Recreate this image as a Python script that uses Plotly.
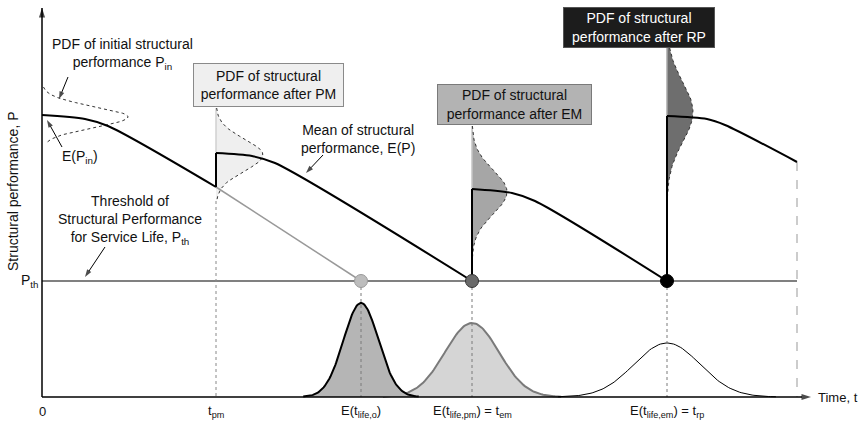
import numpy as np
import plotly.graph_objects as go

# ---------------- key instants (time axis) and performance levels ----------------
t_pm = 17.4
t_life_o = 31.9
t_em = 43.0
t_rp = 62.5
t_end = 75.5

P_th = 11.6
P_in = 28.2

# mean structural performance profile: knots of each service interval
seg_t = [[0.0, 4.3, 6.6, 17.4],
         [17.4, 21.0, 23.3, 43.0],
         [43.0, 47.0, 49.3, 62.5],
         [62.5, 66.5, 68.3, 75.5]]
seg_P = [[28.2, 27.8, 27.1, 21.0],
         [24.4, 24.1, 23.4, 11.6],
         [20.8, 20.4, 19.6, 11.6],
         [28.1, 27.8, 27.2, 23.5]]

# PDFs of structural performance (drawn sideways at a time instant)
pdfP_base = [0.0, t_pm, t_em, t_rp]
pdfP_mean = [28.0, 24.2, 20.5, 28.5]
pdfP_sd = [1.05, 1.6, 2.2, 3.0]
pdfP_peak = [8.6, 4.7, 3.5, 2.6]
pdfP_top = [31.0, 28.9, 27.1, 34.9]
pdfP_bottom = [25.4, 19.6, 12.6, 18.5]
pdfP_fill = [None, "#efefef", "#a6a6a6", "#6e6e6e"]
pdfP_edge = [None, "#d0d0d0", "#c4c4c4", "#a8a8a8"]

# PDFs of service life (on the time axis)
pdfT_mean = [t_life_o, t_em, t_rp]
pdfT_sd = [1.75, 2.7, 3.3]
pdfT_peak = [9.4, 7.4, 5.4]
pdfT_fill = ["#b5b5b5", "#d5d5d5", None]
pdfT_line = ["#000000", "#7a7a7a", "#000000"]
pdfT_width = [2, 2, 1]
pdfT_order = [1, 0, 2]

# service-life points on the threshold
life_t = [t_life_o, t_em, t_rp]
life_fill = ["#bdbdbd", "#6a6a6a", "#000000"]
life_edge = ["#999999", "#333333", "#000000"]

# tick labels
xtick_vals = [0.0, t_pm, t_life_o, t_em, t_rp]
xtick_text = ["0", "t<sub>pm</sub>", "E(t<sub>life,o</sub>)",
              "E(t<sub>life,pm</sub>) = t<sub>em</sub>",
              "E(t<sub>life,em</sub>) = t<sub>rp</sub>"]

X_RANGE = [-0.5, 81.8]
Y_RANGE = [-0.5, 39.7]

FONT = "Liberation Sans, Arial, sans-serif"
fig = go.Figure()

# threshold line
fig.add_trace(go.Scatter(x=[0, t_end], y=[P_th, P_th], mode="lines",
                         line=dict(color="#808080", width=2), hoverinfo="skip"))

# dashed end line
fig.add_trace(go.Scatter(x=[t_end, t_end], y=[seg_P[-1][-1], 0], mode="lines",
                         line=dict(color="#999999", width=1, dash="dash"), hoverinfo="skip"))

# performance PDFs
for i in range(4):
    P = np.linspace(pdfP_top[i], pdfP_bottom[i], 80)
    x = pdfP_base[i] + pdfP_peak[i] * np.exp(-0.5 * ((P - pdfP_mean[i]) / pdfP_sd[i]) ** 2)
    if pdfP_fill[i]:
        fig.add_trace(go.Scatter(x=np.concatenate([[pdfP_base[i]], x, [pdfP_base[i]]]),
                                 y=np.concatenate([[pdfP_top[i]], P, [pdfP_bottom[i]]]),
                                 mode="lines", fill="toself", fillcolor=pdfP_fill[i],
                                 line=dict(width=0), hoverinfo="skip"))
        fig.add_trace(go.Scatter(x=[pdfP_base[i], pdfP_base[i]],
                                 y=[pdfP_top[i], seg_P[i][0]], mode="lines",
                                 line=dict(color=pdfP_edge[i], width=1.5), hoverinfo="skip"))
    fig.add_trace(go.Scatter(x=x, y=P, mode="lines",
                             line=dict(color="#333333", width=1, dash="dot"), hoverinfo="skip"))

# service-life PDFs
for i in pdfT_order:
    t = np.linspace(pdfT_mean[i] - 3.3 * pdfT_sd[i], pdfT_mean[i] + 3.3 * pdfT_sd[i], 120)
    y = pdfT_peak[i] * np.exp(-0.5 * ((t - pdfT_mean[i]) / pdfT_sd[i]) ** 2)
    fig.add_trace(go.Scatter(x=t, y=y, mode="lines",
                             fill="tozeroy" if pdfT_fill[i] else None,
                             fillcolor=pdfT_fill[i],
                             line=dict(color=pdfT_line[i], width=pdfT_width[i]), hoverinfo="skip"))

# dotted verticals (drawn over the life-time PDFs)
fig.add_trace(go.Scatter(x=[t_pm, t_pm], y=[pdfP_bottom[1], 0], mode="lines",
                         line=dict(color="#888888", width=1, dash="dot"), hoverinfo="skip"))
for tv in life_t:
    fig.add_trace(go.Scatter(x=[tv, tv], y=[P_th, 0], mode="lines",
                             line=dict(color="#7a7a7a", width=1, dash="dot"), hoverinfo="skip"))

# no-maintenance continuation
fig.add_trace(go.Scatter(x=[t_pm, t_life_o], y=[seg_P[0][-1], P_th], mode="lines",
                         line=dict(color="#999999", width=1.5), hoverinfo="skip"))

# mean performance profile
for i in range(4):
    fig.add_trace(go.Scatter(x=seg_t[i], y=seg_P[i], mode="lines",
                             line=dict(color="black", width=2, shape="spline", smoothing=0.8),
                             hoverinfo="skip"))
    if i > 0:
        fig.add_trace(go.Scatter(x=[seg_t[i][0], seg_t[i][0]], y=[seg_P[i - 1][-1], seg_P[i][0]],
                                 mode="lines", line=dict(color="black", width=2), hoverinfo="skip"))

# service-life markers
fig.add_trace(go.Scatter(x=life_t, y=[P_th] * 3, mode="markers",
                         marker=dict(size=13, color=life_fill, line=dict(color=life_edge, width=1)),
                         hoverinfo="skip"))


def arrow(x, y, ax, ay, w=1.0, size=8):
    fig.add_trace(go.Scatter(x=[ax, x], y=[ay, y], mode="lines+markers", cliponaxis=False,
                             line=dict(color="black", width=w),
                             marker=dict(symbol=["circle", "arrow"], size=[0, size],
                                         angleref="previous", color="black",
                                         line=dict(width=0)),
                             hoverinfo="skip"))


# axes with arrow heads
arrow(0, 38.9, 0, 0, w=1.5, size=10)
arrow(76.9, 0, 0, 0, w=1.5, size=10)

# callout arrows
arrow(1.7, 29.8, 2.6, 32.0)
arrow(0.5, 27.7, 2.0, 25.0)
arrow(26.4, 22.4, 28.1, 24.2)
arrow(4.3, 12.0, 6.3, 15.0)

ann = []


def label(x, y, text, size=14, color="#111111", **kw):
    # place in paper coordinates so labels in the margins are always drawn
    px = (x - X_RANGE[0]) / (X_RANGE[1] - X_RANGE[0])
    py = (y - Y_RANGE[0]) / (Y_RANGE[1] - Y_RANGE[0])
    d = dict(x=px, y=py, xref="paper", yref="paper", text=text, showarrow=False,
             xanchor="center", yanchor="middle",
             font=dict(family=FONT, size=size, color=color))
    d.update(kw)
    ann.append(d)


for v, tx in zip(xtick_vals, xtick_text):
    label(v, -1.4, tx, size=13)
label(-1.2, P_th, "P<sub>th</sub>", size=14)
label(77.4, 0, "Time, t", size=13, xanchor="left")
label(-2.9, 20.6, "Structural performance, P", size=14, textangle=-90)

# callouts
label(8.0, 34.3, "PDF of initial structural<br>performance P<sub>in</sub>")
label(3.8, 24.0, "E(P<sub>in</sub>)")
label(31.6, 25.85, "Mean of structural<br>performance, E(P)")
label(8.8, 17.7, "Threshold of<br>Structural Performance<br>for Service Life, P<sub>th</sub>")

# boxes
label(22.65, 31.2, "PDF of structural<br>performance after PM", width=145, height=38,
      bgcolor="#efefef", bordercolor="#8a8a8a", borderwidth=1, borderpad=2)
label(47.25, 29.25, "PDF of structural<br>performance after EM", width=149, height=35,
      bgcolor="#b3b3b3", bordercolor="#7a7a7a", borderwidth=1, borderpad=2)
label(59.7, 36.95, "PDF of structural<br>performance after RP", color="white",
      width=146, height=35, bgcolor="#1c1c1c", bordercolor="#555555",
      borderwidth=1, borderpad=2)

fig.update_layout(width=860, height=422, autosize=False,
                  margin=dict(l=37, r=0, t=0, b=20),
                  xaxis=dict(range=X_RANGE, visible=False),
                  yaxis=dict(range=Y_RANGE, visible=False),
                  plot_bgcolor="white", paper_bgcolor="white",
                  showlegend=False, hovermode=False, annotations=ann)

fig.write_html("out.html", config={"displayModeBar": False},
               post_script="document.body.style.margin='0px';document.body.style.overflow='hidden';")
